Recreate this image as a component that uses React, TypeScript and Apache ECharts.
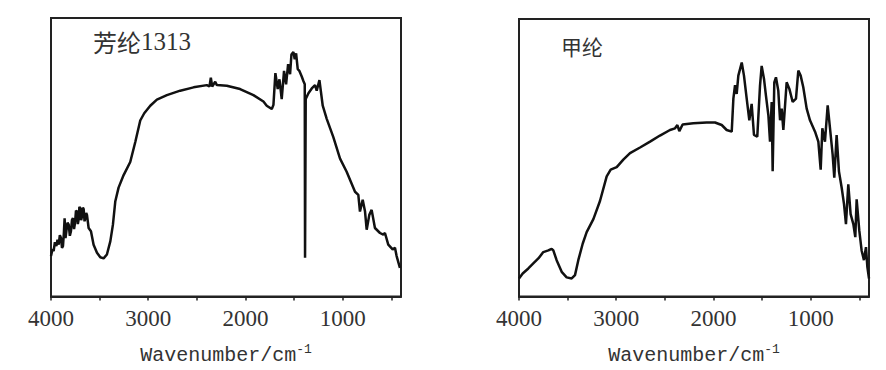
import React, { useEffect, useRef } from "react";
import * as echarts from "echarts";

// Aramid 1313 (left panel): wavenumber (cm-1) and relative transmittance
const leftWn = [
  4000, 3985, 3973, 3960, 3945, 3933, 3921, 3909, 3897, 3887, 3877, 3868, 3860, 3851, 3842, 3830,
  3818, 3806, 3795, 3784, 3774, 3763, 3753, 3743, 3733, 3724, 3716, 3708, 3699, 3690, 3681, 3672,
  3664, 3655, 3647, 3638, 3630, 3613, 3589, 3562, 3527, 3493, 3459, 3425, 3390, 3363, 3339, 3305,
  3253, 3185, 3133, 3082, 3041, 2979, 2911, 2808, 2671, 2534, 2397, 2370, 2356, 2342, 2311, 2294,
  2192, 2055, 1918, 1815, 1781, 1729, 1712, 1692, 1668, 1650, 1627, 1603, 1582, 1561, 1541, 1527,
  1507, 1493, 1479, 1462, 1445, 1421, 1404, 1390, 1387, 1380, 1352, 1318, 1284, 1267, 1239, 1205,
  1164, 1096, 1027, 959, 873, 839, 822, 794, 770, 753, 726, 702, 668, 616, 582, 565, 531, 486, 462,
  445, 411,
];
const leftT = [
  14.5, 17.0, 16.3, 19.5, 18.1, 20.4, 18.6, 22.0, 21.0, 17.5, 18.1, 22.5, 28.1, 21.0, 23.4, 26.5,
  25.8, 21.8, 23.4, 27.5, 28.1, 24.2, 26.4, 30.8, 30.5, 26.0, 27.6, 32.2, 31.7, 27.4, 28.7, 31.9,
  31.4, 27.0, 28.1, 30.0, 29.3, 24.6, 23.4, 18.6, 15.7, 14.1, 13.7, 15.1, 19.8, 25.8, 34.1, 39.1,
  43.6, 48.3, 55.5, 63.2, 65.8, 68.5, 70.7, 72.3, 73.9, 75.1, 75.9, 75.4, 78.6, 75.4, 77.1, 75.9,
  75.7, 74.5, 72.3, 70.0, 68.5, 67.3, 68.8, 80.2, 74.5, 78.0, 70.9, 81.0, 76.2, 83.4, 79.8, 86.9,
  87.8, 85.2, 87.3, 81.6, 81.0, 79.0, 77.4, 76.2, 13.9, 70.9, 73.0, 74.7, 75.9, 73.9, 77.7, 68.5,
  63.8, 57.2, 49.5, 44.8, 37.6, 36.5, 30.5, 34.7, 30.5, 24.0, 29.3, 31.1, 24.6, 22.8, 22.2, 22.8, 18.6, 16.9, 17.5,
  14.5, 10.3,
];

// Polyester (right panel)
const rightWn = [
  4000, 3962, 3904, 3853, 3801, 3750, 3698, 3664, 3647, 3613, 3561, 3510, 3458, 3424, 3390, 3345,
  3304, 3235, 3167, 3098, 3057, 2995, 2927, 2858, 2755, 2652, 2550, 2447, 2395, 2371, 2351, 2317,
  2207, 2070, 1984, 1915, 1864, 1812, 1795, 1778, 1761, 1744, 1709, 1686, 1658, 1631, 1607, 1583,
  1549, 1521, 1504, 1480, 1460, 1435, 1418, 1401, 1391, 1374, 1357, 1333, 1315, 1298, 1281, 1247,
  1219, 1185, 1151, 1127, 1103, 1076, 1041, 1007, 955, 921, 897, 880, 853, 825, 801, 774, 757, 733,
  709, 681, 657, 637, 613, 589, 561, 541, 527, 500, 476, 452, 431, 417, 400,
];
const rightT = [
  6.5, 8.3, 10.1, 11.9, 13.7, 16.0, 16.6, 17.2, 16.6, 13.1, 8.9, 6.9, 6.5, 7.7, 13.1, 19.0,
  23.2, 27.9, 34.4, 43.3, 45.7, 46.6, 49.3, 51.7, 53.7, 55.8, 58.0, 60.0, 60.6, 61.8, 59.6, 62.0,
  62.4, 62.7, 62.7, 61.8, 60.0, 59.4, 71.3, 76.2, 73.0, 79.6, 84.3, 79.6, 71.3, 63.5, 69.4, 58.2,
  57.6, 76.0, 83.1, 78.4, 72.4, 65.3, 55.8, 70.1, 45.1, 77.2, 79.0, 74.2, 63.5, 67.7, 60.0, 77.2,
  74.8, 70.1, 71.3, 81.4, 79.6, 75.4, 67.7, 63.5, 59.4, 55.8, 45.7, 60.6, 55.8, 68.9, 60.6, 51.1, 42.8, 58.2,
  45.1, 39.2, 33.3, 26.1, 40.4, 29.7, 26.1, 21.4, 35.0, 23.8, 16.6, 13.1, 17.8, 10.7, 6.5,
];

const tickValues = [4000, 3500, 3000, 2500, 2000, 1500, 1000, 500];
const labelValues = [4000, 3000, 2000, 1000];
const titles = ["芳纶", "甲纶"];
const titleSuffix = ["1313", ""];
const axisTitle = "Wavenumber/cm";

const zip = (a: number[], b: number[]) => a.map((v, i) => [v, b[i]]);

function makeX(gridIndex: number) {
  return {
    type: "value",
    gridIndex,
    min: 400,
    max: 4000,
    inverse: true,
    splitLine: { show: false },
    axisLine: { show: true, lineStyle: { color: "#222", width: 2 } },
    axisTick: { show: true, customValues: tickValues, length: 4, lineStyle: { color: "#222", width: 1.5 } },
    axisLabel: {
      customValues: labelValues,
      formatter: (v: number) => String(v),
      fontFamily: "'Liberation Serif', serif",
      fontSize: 23,
      color: "#333",
      margin: 10,
    },
    name: axisTitle + "{s|-1}",
    nameLocation: "middle",
    nameGap: 46,
    nameTextStyle: {
      fontFamily: "'Liberation Mono', monospace",
      fontSize: 20,
      color: "#333",
      rich: {
        s: { fontFamily: "'Liberation Mono', monospace", fontSize: 13, color: "#333", verticalAlign: "top", padding: [0, 0, 12, 0] },
      },
    },
  };
}

export default function App() {
  const ref = useRef<HTMLDivElement>(null);
  useEffect(() => {
    if (!ref.current) return;
    const chart = echarts.init(ref.current, null, { renderer: "svg" });
    chart.setOption({
      animation: false,
      backgroundColor: "#fff",
      grid: [
        { left: 51, top: 18, width: 350, height: 281, show: true, borderColor: "#222", borderWidth: 2 },
        { left: 519, top: 19, width: 350, height: 281, show: true, borderColor: "#222", borderWidth: 2 },
      ],
      xAxis: [makeX(0), makeX(1)],
      yAxis: [
        { type: "value", gridIndex: 0, min: 0, max: 100, show: false },
        { type: "value", gridIndex: 1, min: 0, max: 100, show: false },
      ],
      series: [
        {
          type: "line",
          xAxisIndex: 0,
          yAxisIndex: 0,
          data: zip(leftWn, leftT),
          showSymbol: false,
          lineStyle: { color: "#111", width: 2.5 },
        },
        {
          type: "line",
          xAxisIndex: 1,
          yAxisIndex: 1,
          data: zip(rightWn, rightT),
          showSymbol: false,
          lineStyle: { color: "#111", width: 2.5 },
        },
      ],
      graphic: [
        {
          type: "text",
          left: 93,
          top: 29,
          style: {
            text: "{c|" + titles[0] + "}{d|" + titleSuffix[0] + "}",
            rich: {
              c: { fontFamily: "Noto Sans CJK SC", fontSize: 24, fill: "#333" },
              d: { fontFamily: "'Liberation Serif', serif", fontSize: 25, fill: "#333" },
            },
          },
        },
        {
          type: "text",
          left: 561,
          top: 35,
          style: {
            text: titles[1],
            fontFamily: "Noto Sans CJK SC",
            fontSize: 21,
            fill: "#333",
          },
        },
      ],
    });
    return () => chart.dispose();
  }, []);
  return (
    <div
      ref={ref}
      style={{ position: "fixed", left: 0, top: 0, width: 886, height: 370, background: "#fff" }}
    />
  );
}
